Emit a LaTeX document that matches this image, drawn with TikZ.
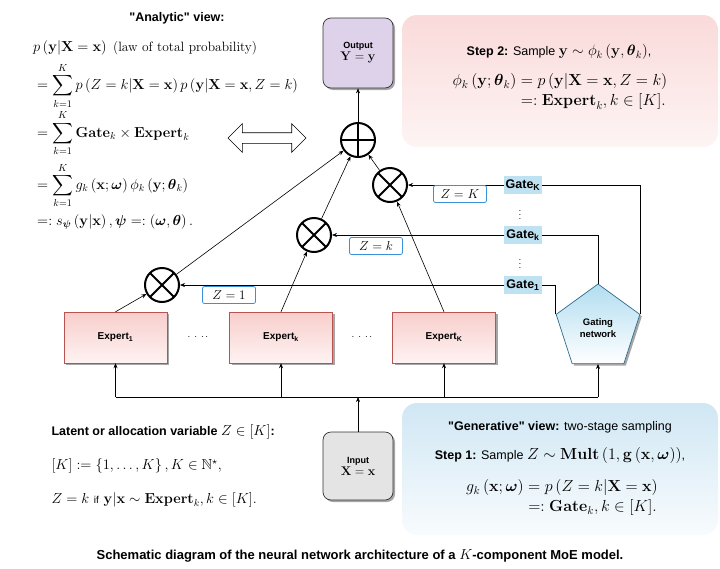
\RequirePackage{fix-cm}
\documentclass[tikz,border=0pt]{standalone}
\usepackage{amsmath,amssymb}
\usepackage[no-math]{fontspec}
\setsansfont[Ligatures=TeXOff]{Liberation Sans}
\usepackage{tikz}
\usetikzlibrary {arrows.meta,
                 positioning,
                 shadows,
                 shapes.arrows,
                 shapes.geometric}
\definecolor{expfill}{HTML}{F8CECC}
\definecolor{expdraw}{HTML}{B85450}
\definecolor{gatefill}{HTML}{B1DDF0}
\definecolor{gatedraw}{HTML}{2E6C8E}
\definecolor{gatelbl}{HTML}{BFE2F2}
\definecolor{outfill}{HTML}{DDD2E9}
\definecolor{infill}{HTML}{E4E4E4}
\definecolor{zdraw}{HTML}{3C8FD9}
\definecolor{panelred}{HTML}{FADADA}
\definecolor{panelblue}{HTML}{D0E7F4}
\newcommand{\mathsz}{\fontsize{14.5}{17}\selectfont}
\newcommand{\panelsz}{\fontsize{16}{19}\selectfont}
\newcommand{\sansz}{\sffamily\fontsize{12.5}{15}\selectfont}
\tikzset{
        myline/.style={line width=0.6pt},
        myarrow/.style={-{Stealth[length=5pt, width=4pt]}, line width=0.6pt},
        shad/.style={drop shadow={shadow xshift=2pt, shadow yshift=-2pt,
                     fill=black, opacity=0.35}},
        mult/.style={circle, draw, line width=2pt, fill=white,
                     minimum size=34pt, inner sep=0pt,
                     path picture={\draw[line width=2pt]
                       (path picture bounding box.north west) -- (path picture bounding box.south east)
                       (path picture bounding box.north east) -- (path picture bounding box.south west);}},
        addc/.style={circle, draw, line width=2pt, fill=white,
                     minimum size=34pt, inner sep=0pt,
                     path picture={\draw[line width=2pt]
                       (path picture bounding box.north) -- (path picture bounding box.south)
                       (path picture bounding box.east) -- (path picture bounding box.west);}},
        expert/.style={shad, draw=expdraw, top color=expfill, bottom color=expfill!25!white,
                       minimum width=103pt, minimum height=51pt,
                       font=\sffamily\bfseries\fontsize{10}{12}\selectfont},
        term/.style={shad, draw=black!80, rounded corners=8pt, line width=0.7pt,
                     minimum width=70pt, align=center,
                     font=\sffamily\bfseries\fontsize{9}{11}\selectfont},
        gatelabel/.style={fill=gatelbl, inner sep=1.5pt, minimum width=38pt, minimum height=18pt,
                          font=\sffamily\bfseries\fontsize{12.5}{14}\selectfont},
        zlabel/.style={draw=zdraw, fill=white, rounded corners=2pt, line width=0.8pt,
                       minimum width=53pt, minimum height=17pt, inner sep=1pt,
                       font=\fontsize{13}{14}\selectfont},
        panel/.style={rounded corners=15pt, minimum width=316pt, minimum height=132pt},
 }

\begin{document}
\begin{tikzpicture}[x=1pt, y=-1pt]
    \useasboundingbox (0,0) rectangle (720,568);

    % background panels
    \node[panel, top color=panelred, bottom color=panelred!30!white] (steptwo) at (560,81) {};
    \node[panel, top color=panelblue, bottom color=panelblue!15!white] (gener) at (560,469) {};

    % analytic view
    \node[font=\sansz\bfseries] (antitle) at (177,18) {"Analytic" view:};
    \node[anchor=north west, font=\mathsz, inner sep=0pt] (analytic) at (33,39) {$\begin{aligned}
      & p\left(\mathbf{y}|\mathbf{X}=\mathbf{x}\right)\;\text{\fontsize{13.5}{16}\selectfont(law of total probability)}\\[3pt]
      &= \sum_{k=1}^{K} p\left(Z=k|\mathbf{X}=\mathbf{x}\right) p\left(\mathbf{y}|\mathbf{X}=\mathbf{x},Z=k\right)\\[-2pt]
      &= \sum_{k=1}^{K} \mathbf{Gate}_k \times \mathbf{Expert}_k\\[3pt]
      &= \sum_{k=1}^{K} g_k\left(\mathbf{x};\boldsymbol{\omega}\right)\phi_k\left(\mathbf{y};\boldsymbol{\theta}_k\right)\\[1pt]
      &=: s_{\boldsymbol{\psi}}\left(\mathbf{y}|\mathbf{x}\right), \boldsymbol{\psi} =: \left(\boldsymbol{\omega},\boldsymbol{\theta}\right).
    \end{aligned}$};
    \node[double arrow, draw, fill=white, line width=0.6pt, minimum height=78pt,
          text height=5pt, text depth=5pt, text width=0pt,
          double arrow head extend=9pt, inner sep=0pt] (equiv) at (267,138) {};

    % step 2
    \node[font=\sansz] (st2) at (559,52) {\textbf{Step 2:} Sample {\fontsize{15}{18}\selectfont$\mathbf{y}\sim\phi_k\left(\mathbf{y},\boldsymbol{\theta}_k\right)$},};
    \node[font=\panelsz] (st2eq) at (560,92) {$\begin{aligned}
      \phi_k\left(\mathbf{y};\boldsymbol{\theta}_k\right) &= p\left(\mathbf{y}|\mathbf{X}=\mathbf{x},Z=k\right)\\[-2pt]
      &=: \mathbf{Expert}_k, k\in[K].
    \end{aligned}$};

    % network
    \node[term, fill=outfill, minimum height=70pt] (out) at (358,53) {Output\\[1pt] {\normalfont\fontsize{12.5}{13}\selectfont$\mathbf{Y}=\mathbf{y}$}};
    \node[addc] (op) at (358,140) {};
    \node[mult] (oK) at (390,185) {};
    \node[mult] (ok) at (314,235) {};
    \node[mult] (o1) at (162,285) {};

    \node[expert] (e1) at (115.5,337.5) {Expert\textsubscript{1}};
    \node[expert] (ek) at (281,337.5) {Expert\textsubscript{k}};
    \node[expert] (eK) at (444,337.5) {Expert\textsubscript{K}};
    \node (d1) at (198,337) {$\cdot\,\cdot\,\cdot\,\cdot$};
    \node (d2) at (362,337) {$\cdot\,\cdot\,\cdot\,\cdot$};

    \node[shad, regular polygon, regular polygon sides=5, draw=gatedraw, line width=0.7pt,
          top color=gatefill, bottom color=white, minimum size=88pt, inner sep=0pt,
          align=center, font=\sffamily\bfseries\fontsize{9.5}{12}\selectfont] (gating) at (598,328) {Gating\\network};

    \node[term, fill=infill, minimum height=68pt] (in) at (358,466) {Input\\[1pt] {\normalfont\fontsize{12.5}{13}\selectfont$\mathbf{X}=\mathbf{x}$}};
    \coordinate (bus) at (358,397);

    % gates
    \draw[myline] (gating.corner 5) |- (523,185) coordinate (gKc);
    \draw[myline] (gating.corner 1) |- (523,235) coordinate (gkc);
    \draw[myline] (gating.corner 2) |- (523,285) coordinate (g1c);
    \node[gatelabel] (gK) at (gKc) {Gate\textsubscript{K}};
    \node[gatelabel] (gk) at (gkc) {Gate\textsubscript{k}};
    \node[gatelabel] (g1) at (g1c) {Gate\textsubscript{1}};
    \node (vd1) at (520,212) {$\vdots$};
    \node (vd2) at (520,261) {$\vdots$};
    \draw[myarrow] (gK) -- (oK);
    \draw[myarrow] (gk) -- (ok);
    \draw[myarrow] (g1) -- (o1);
    \node[zlabel] (zK) at (460,194) {$Z=K$};
    \node[zlabel] (zk) at (376,246) {$Z=k$};
    \node[zlabel] (z1) at (229,295) {$Z=1$};

    % experts to products to sum
    \draw[myarrow] (e1.north) -- (o1);
    \draw[myarrow] (ek.north) -- (ok);
    \draw[myarrow] (eK.north) -- (oK);
    \foreach \n in {o1,ok,oK}
        \draw[myarrow] (\n) -- (op);
    \draw[myarrow] (op) -- (out);

    % input bus
    \draw[myarrow] (in) -- (bus);
    \draw[myline] (e1 |- bus) -- (gating |- bus);
    \foreach \n in {e1,ek,eK,gating}
        \draw[myarrow] (\n |- bus) -- (\n);

    % generative view
    \node[font=\sansz] (gentitle) at (560,427) {\textbf{"Generative" view:} two-stage sampling};
    \node[font=\sansz] (st1) at (560,455) {\textbf{Step 1:} Sample {\panelsz$Z\sim\mathbf{Mult}\left(1,\mathbf{g}\left(\mathbf{x},\boldsymbol{\omega}\right)\right)$},};
    \node[font=\panelsz] (st1eq) at (562,498) {$\begin{aligned}
      g_k\left(\mathbf{x};\boldsymbol{\omega}\right) &= p\left(Z=k|\mathbf{X}=\mathbf{x}\right)\\[-2pt]
      &=: \mathbf{Gate}_k, k\in[K].
    \end{aligned}$};

    % latent variable
    \node[anchor=west, font=\sansz\bfseries] (lat1) at (48,432) {Latent or allocation variable {\mathsz$Z\in[K]$}:};
    \node[anchor=west, font=\mathsz] (lat2) at (48,466) {$[K]:=\left\{1,\ldots,K\right\}, K\in\mathbb{N}^{\star}$,};
    \node[anchor=west, font=\mathsz] (lat3) at (48,500) {$Z=k$ {\sffamily\fontsize{10}{12}\selectfont if} $\mathbf{y}|\mathbf{x}\sim\mathbf{Expert}_k, k\in[K]$.};

    \node[font=\sffamily\bfseries\fontsize{13}{15}\selectfont] (caption) at (360,556) {Schematic diagram of the neural network architecture of a {\mathsz$K$}-component MoE model.};
\end{tikzpicture}
\end{document}
